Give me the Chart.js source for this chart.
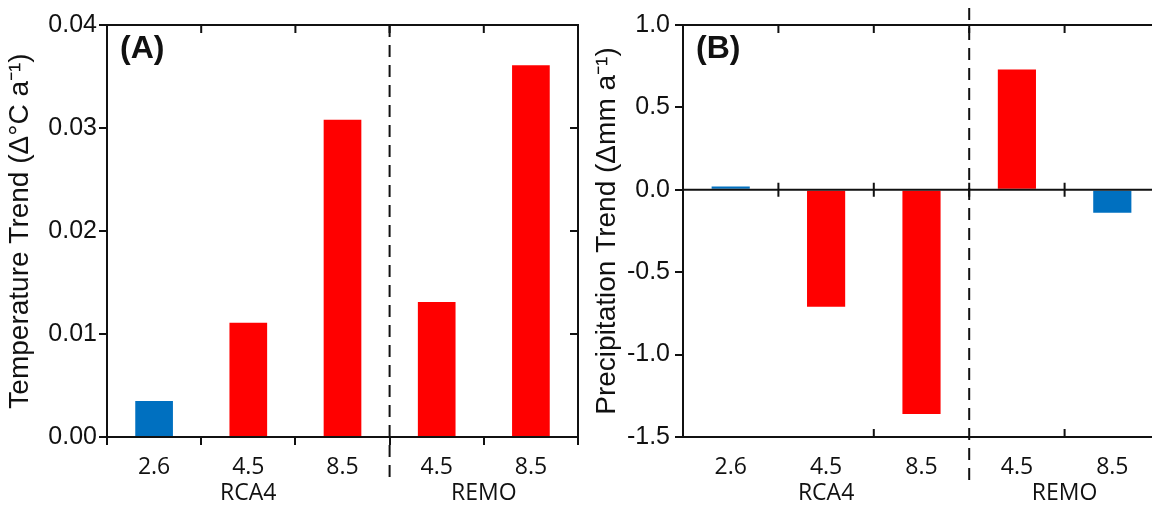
<!DOCTYPE html>
<html>
<head>
<meta charset="utf-8">
<script src="https://cdn.jsdelivr.net/npm/chart.js@4.4.1/dist/chart.umd.min.js"></script>
<style>
  html, body { margin: 0; padding: 0; background: #fff; overflow: hidden; width: 1152px; height: 506px; }
  #wrapA { position: absolute; left: 0; top: 0; width: 590px; height: 506px; }
  #wrapB { position: absolute; left: 580px; top: 0; width: 600px; height: 506px; }
</style>
</head>
<body>
<div id="wrapA"><canvas id="chartA"></canvas></div>
<div id="wrapB"><canvas id="chartB"></canvas></div>
<script>
// data
const categories = ["2.6", "4.5", "8.5", "4.5", "8.5"];
const tempTrend = [0.0035, 0.0111, 0.0308, 0.0131, 0.0361];
const precipTrend = [0.02, -0.71, -1.36, 0.73, -0.14];

const groupNames = ["RCA4", "REMO"];
const groupCenters = [1, 3.5]; // in category units

const tempTickValues = [0, 0.01, 0.02, 0.03, 0.04];
const tempTickLabels = ["0.00", "0.01", "0.02", "0.03", "0.04"];
const precipTickValues = [-1.5, -1.0, -0.5, 0, 0.5, 1.0];
const precipTickLabels = ["-1.5", "-1.0", "-0.5", "0.0", "0.5", "1.0"];

const blue = "#0070C0";
const red = "#FF0000";
const colorsA = [blue, red, red, red, red];
const colorsB = [blue, red, red, red, blue];

const ink = "#111";
const tickFont = { family: "'Liberation Sans', Arial, sans-serif", size: 25 };
const catFont = { family: "'Open Sans', 'Noto Sans', sans-serif", size: 23 };

// frame, inner ticks, dashed divider, labels
const panelDecor = {
    id: "panelDecor",
    beforeDatasetsDraw(chart, args, opts) {
        const { ctx, scales: { x } } = chart;
        const bx = i => (x.getPixelForValue(i) + x.getPixelForValue(i + 1)) / 2;
        ctx.save();
        ctx.strokeStyle = ink;
        ctx.lineWidth = 2;
        ctx.setLineDash([12, 8]);
        ctx.beginPath();
        ctx.moveTo(bx(2), opts.dashTop);
        ctx.lineTo(bx(2), opts.dashBottom);
        ctx.stroke();
        ctx.restore();
    },
    afterDatasetsDraw(chart, args, opts) {
        const { ctx, chartArea: a, scales: { x, y } } = chart;
        const bx = i => (x.getPixelForValue(i) + x.getPixelForValue(i + 1)) / 2;
        const tl = 8;
        ctx.save();
        ctx.strokeStyle = ink;
        ctx.lineWidth = 2;
        ctx.beginPath();
        ctx.rect(a.left, a.top, a.right - a.left, a.bottom - a.top);
        // top ticks pointing in
        for (let i = 0; i < categories.length - 1; i++) {
            ctx.moveTo(bx(i), a.top);
            ctx.lineTo(bx(i), a.top + tl);
        }
        // right ticks pointing in
        opts.tickValues.slice(1, -1).forEach(v => {
            const py = y.getPixelForValue(v);
            ctx.moveTo(a.right, py);
            ctx.lineTo(a.right - tl, py);
        });
        // bottom ticks pointing in
        opts.bottomInward.forEach(i => {
            ctx.moveTo(bx(i), a.bottom);
            ctx.lineTo(bx(i), a.bottom - tl);
        });
        if (opts.zeroLine) {
            const y0 = y.getPixelForValue(0);
            ctx.moveTo(a.left, y0);
            ctx.lineTo(a.right, y0);
            for (let i = 0; i < categories.length - 1; i++) {
                ctx.moveTo(bx(i), y0 - 7);
                ctx.lineTo(bx(i), y0 + 7);
            }
        }
        ctx.stroke();

        ctx.fillStyle = ink;
        ctx.font = "bold 32px 'Liberation Sans Narrow', 'Liberation Sans', Arial, sans-serif";
        ctx.textAlign = "left";
        ctx.textBaseline = "alphabetic";
        ctx.fillText(opts.letter, a.left + 13, 58);

        ctx.font = catFont.size + "px " + catFont.family;
        ctx.textAlign = "center";
        ctx.textBaseline = "middle";
        groupNames.forEach((g, i) => {
            const c = groupCenters[i];
            const px = Number.isInteger(c) ? x.getPixelForValue(c) : bx(Math.floor(c));
            ctx.fillText(g, px, 493);
        });
        ctx.restore();
    }
};

function makeChart(id, values, colors, o) {
    return new Chart(document.getElementById(id), {
        type: "bar",
        data: {
            labels: categories,
            datasets: [{
                data: values,
                backgroundColor: colors,
                borderWidth: 0,
                barPercentage: 0.4,
                categoryPercentage: 1.0,
            }],
        },
        plugins: [panelDecor],
        options: {
            responsive: true,
            maintainAspectRatio: false,
            animation: false,
            events: [],
            layout: { padding: { top: 25, right: o.padRight, left: 0, bottom: 0 } },
            scales: {
                x: {
                    grid: {
                        display: o.xOuterTicks,
                        drawOnChartArea: false,
                        drawTicks: o.xOuterTicks,
                        tickLength: o.xOuterTicks ? 8 : 0,
                        color: ink,
                        lineWidth: 2,
                        offset: true,
                    },
                    border: { display: false },
                    ticks: { color: ink, font: catFont, padding: o.xPad, maxRotation: 0 },
                    afterFit: axis => { axis.height = 69; },
                },
                y: {
                    min: o.tickValues[0],
                    max: o.tickValues[o.tickValues.length - 1],
                    afterBuildTicks: axis => { axis.ticks = o.tickValues.map(v => ({ value: v })); },
                    grid: {
                        display: true,
                        drawOnChartArea: false,
                        drawTicks: true,
                        tickLength: 8,
                        color: ink,
                        lineWidth: 2,
                    },
                    border: { display: false },
                    ticks: {
                        color: ink,
                        font: tickFont,
                        padding: o.yPad,
                        callback: (v, i) => o.tickLabels[i],
                    },
                    title: {
                        display: true,
                        text: o.title,
                        color: ink,
                        font: { family: "'Liberation Sans', Arial, sans-serif", size: 28 },
                        padding: { top: o.titlePad, bottom: 0 },
                    },
                    afterFit: axis => { axis.width = o.yWidth; },
                },
            },
            plugins: {
                legend: { display: false },
                tooltip: { enabled: false },
                panelDecor: {
                    letter: o.letter,
                    tickValues: o.tickValues,
                    bottomInward: o.bottomInward,
                    zeroLine: o.zeroLine,
                    dashTop: o.dashTop,
                    dashBottom: 484,
                },
            },
        },
    });
}

makeChart("chartA", tempTrend, colorsA, {
    letter: "(A)",
    title: "Temperature Trend (\u0394\u00B0C a\u207B\u00B9)",
    tickValues: tempTickValues,
    tickLabels: tempTickLabels,
    yWidth: 107,
    yPad: 2,
    titlePad: 3,
    padRight: 12,
    xOuterTicks: true,
    xPad: 9,
    bottomInward: [],
    zeroLine: false,
    dashTop: 25,
});

makeChart("chartB", precipTrend, colorsB, {
    letter: "(B)",
    title: "Precipitation Trend (\u0394mm a\u207B\u00B9)",
    tickValues: precipTickValues,
    tickLabels: precipTickLabels,
    yWidth: 103,
    yPad: 5,
    titlePad: 10,
    padRight: 20,
    xOuterTicks: false,
    xPad: 17,
    bottomInward: [1, 3],
    zeroLine: true,
    dashTop: 8,
});
</script>
</body>
</html>
